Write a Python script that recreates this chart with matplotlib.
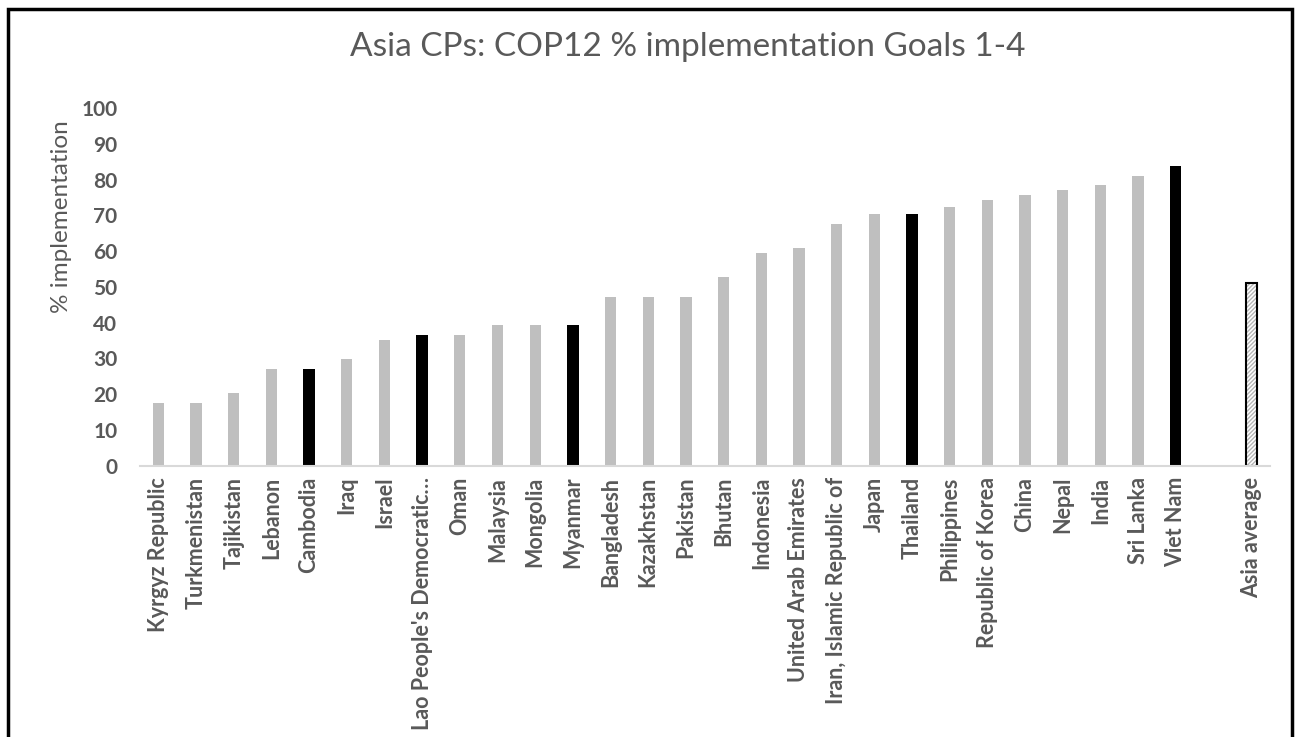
import matplotlib
matplotlib.use("Agg")
import matplotlib.pyplot as plt
from matplotlib.patches import Rectangle

plt.rcParams['font.family'] = ['Lato', 'DejaVu Sans']

countries = ["Kyrgyz Republic", "Turkmenistan", "Tajikistan", "Lebanon", "Cambodia",
             "Iraq", "Israel", "Lao People's Democratic\u2026", "Oman", "Malaysia",
             "Mongolia", "Myanmar", "Bangladesh", "Kazakhstan", "Pakistan", "Bhutan",
             "Indonesia", "United Arab Emirates", "Iran, Islamic Republic of", "Japan",
             "Thailand", "Philippines", "Republic of Korea", "China", "Nepal", "India",
             "Sri Lanka", "Viet Nam"]
values = [17.6, 17.6, 20.3, 27.0, 27.0, 29.7, 35.1, 36.5, 36.5, 39.2, 39.2, 39.2,
          47.3, 47.3, 47.3, 52.7, 59.5, 60.8, 67.6, 70.3, 70.3, 72.3, 74.3, 75.7,
          77.0, 78.4, 81.1, 83.8]
highlight = ["Cambodia", "Lao People's Democratic\u2026", "Myanmar", "Thailand", "Viet Nam"]
avg_label = "Asia average"
avg_value = 51.2
y_ticks = list(range(0, 101, 10))

text_col = "#595959"

fig = plt.figure(figsize=(12.97, 7.37), dpi=100)
ax = fig.add_axes([139.5 / 1297, 1 - 465.7 / 737, (1270 - 139.5) / 1297, (465.7 - 108) / 737])

x = list(range(len(countries)))
colors = ["#000000" if c in highlight else "#bfbfbf" for c in countries]
ax.bar(x, values, width=0.3, color=colors)

# average bar sits after an empty slot
avg_x = len(countries) + 1
ax.bar(avg_x, avg_value, width=0.3, color="white", edgecolor="#b5b5b5",
       hatch="////////", linewidth=0)
ax.bar(avg_x, avg_value, width=0.3, fill=False, edgecolor="black", linewidth=1.5)

ax.set_xlim(-0.5, avg_x + 0.5)
ax.set_ylim(0, 100)
ax.set_yticks(y_ticks)
ax.set_yticklabels([str(t) for t in y_ticks], fontsize=15, fontweight="bold",
                   color=text_col)
ax.set_xticks(x + [avg_x])
ax.set_xticklabels(countries + [avg_label], rotation=90, fontsize=15.5,
                   fontweight="bold", color=text_col)
ax.tick_params(axis="x", length=0, pad=8)
ax.tick_params(axis="y", length=0, pad=16)

for s in ["top", "right", "left"]:
    ax.spines[s].set_visible(False)
ax.spines["bottom"].set_color("#d9d9d9")
ax.spines["bottom"].set_linewidth(1.5)

fig.text(688 / 1297, 1 - 47 / 737, "Asia CPs: COP12 % implementation Goals 1-4",
         ha="center", va="center", fontsize=24, color=text_col)
fig.text(62 / 1297, 1 - 217 / 737, "% implementation", rotation=90,
         ha="center", va="center", fontsize=17.5, color=text_col)

# chart border
fig.patches.append(Rectangle((8 / 1297, -0.1), (1292 - 8) / 1297, 1.1 - 9 / 737,
                             transform=fig.transFigure, fill=False,
                             edgecolor="black", linewidth=2.5))

fig.savefig("out.png", dpi=100)
